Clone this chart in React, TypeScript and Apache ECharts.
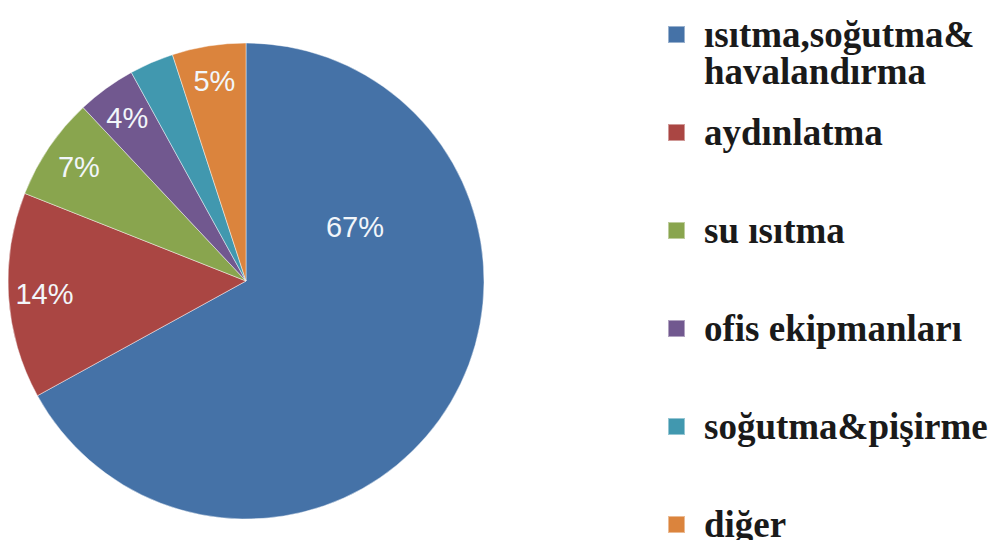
import React, { useEffect, useRef } from "react";
import * as echarts from "echarts";

const categories = [
  "ısıtma,soğutma&\nhavalandırma",
  "aydınlatma",
  "su ısıtma",
  "ofis ekipmanları",
  "soğutma&pişirme",
  "diğer",
];
const values = [67, 14, 7, 4, 3, 5];
const colors = ["#4572A7", "#AA4643", "#89A54E", "#71588F", "#4198AF", "#DB843D"];

const CENTER = [246, 281];
const R = 238;

export default function App() {
  const ref = useRef<HTMLDivElement>(null);
  useEffect(() => {
    if (!ref.current) return;
    const chart = echarts.init(ref.current, undefined, { renderer: "svg" });
    const labelFont = {
      color: "#f2f6fa",
      fontFamily: "Liberation Sans, Arial, sans-serif",
      fontSize: 29,
    };
    chart.setOption({
      animation: false,
      backgroundColor: "#ffffff",
      color: colors,
      legend: {
        type: "plain",
        orient: "vertical",
        left: 667,
        top: -21,
        height: 700,
        width: 330,
        padding: 0,
        itemGap: -13,
        itemWidth: 17,
        itemHeight: 17,
        icon: "rect",
        selectedMode: false,
        data: categories,
        formatter: (name: string) =>
          name.includes("\n") ? "\n" + name : "\n" + name + "\n",
        textStyle: {
          fontFamily: "Liberation Serif, Times New Roman, serif",
          fontWeight: "bold",
          fontSize: 37,
          lineHeight: 37,
          padding: [0, 0, 0, 14],
          color: "#1a1a1a",
        },
      },
      series: [
        {
          type: "pie",
          name: "main",
          center: CENTER,
          radius: [0, R],
          startAngle: 90,
          clockwise: true,
          avoidLabelOverlap: false,
          itemStyle: { borderColor: "rgba(255,255,255,0.45)", borderWidth: 1 },
          label: { show: true, position: "inside", formatter: "{c}%", ...labelFont },
          labelLine: { show: false },
          labelLayout: (p: any) => (p.dataIndex === 0 ? { dx: 4, dy: -116 } : {}),
          data: categories.map((name, i) => ({
            name,
            value: values[i],
            label: { show: i === 0 },
          })),
        },
        {
          type: "pie",
          name: "labels",
          silent: true,
          center: CENTER,
          radius: [160, R],
          startAngle: 90,
          clockwise: true,
          avoidLabelOverlap: false,
          itemStyle: { color: "rgba(0,0,0,0)", borderWidth: 0 },
          label: { show: true, position: "inside", formatter: "{c}%", ...labelFont },
          labelLine: { show: false },
          emphasis: { disabled: true },
          data: categories.map((name, i) => ({
            name,
            value: values[i],
            label: { show: i !== 0 },
          })),
        },
      ],
    });
    return () => chart.dispose();
  }, []);
  return (
    <div
      ref={ref}
      style={{ position: "fixed", left: 0, top: 0, width: 1000, height: 540 }}
    />
  );
}
